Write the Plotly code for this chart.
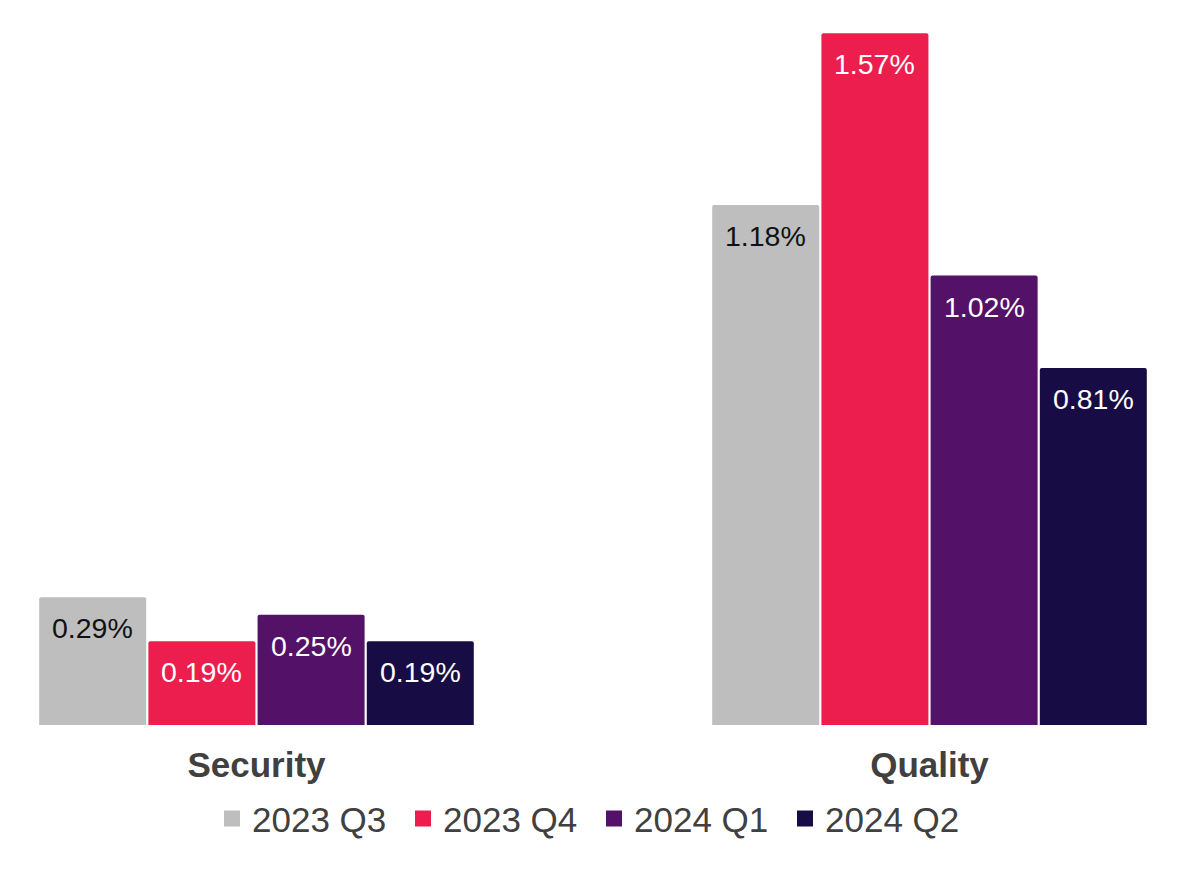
import plotly.graph_objects as go

categories = ["Security", "Quality"]
series_names = ["2023 Q3", "2023 Q4", "2024 Q1", "2024 Q2"]
values = {
    "2023 Q3": [0.29, 1.18],
    "2023 Q4": [0.19, 1.57],
    "2024 Q1": [0.25, 1.02],
    "2024 Q2": [0.19, 0.81],
}
colors = ["#BEBEBE", "#EC1E4E", "#541168", "#170D44"]
label_colors = ["#111111", "#FFFFFF", "#FFFFFF", "#FFFFFF"]

BARGAP = 0.351
GROUPGAP = 0.02
n = len(series_names)
slot = (1 - BARGAP) / n
FONT = "Liberation Sans, Arial, sans-serif"

fig = go.Figure()
xpos = list(range(len(categories)))
for j, name in enumerate(series_names):
    fig.add_trace(go.Bar(
        x=xpos, y=values[name], name=name, legendgroup=name, showlegend=False,
        marker=dict(color=colors[j], cornerradius=2, line=dict(width=0)),
        hoverinfo="skip",
    ))
    # legend entry with a larger square swatch
    fig.add_trace(go.Scatter(
        x=[None], y=[None], mode="markers", name=name, legendgroup=name,
        marker=dict(symbol="square", size=18, color=colors[j]),
        showlegend=True, hoverinfo="skip",
    ))
    for i, v in enumerate(values[name]):
        fig.add_annotation(
            x=i - (1 - BARGAP) / 2 + slot * (j + 0.5), y=v,
            text=f"{v:.2f}%", showarrow=False, yanchor="top", yshift=-13,
            font=dict(family=FONT, size=28.5, color=label_colors[j]),
        )

fig.update_layout(
    width=1200, height=870,
    margin=dict(l=0, r=0, t=20, b=145),
    paper_bgcolor="white", plot_bgcolor="white",
    barmode="group", bargap=BARGAP, bargroupgap=GROUPGAP,
    font=dict(family=FONT),
    xaxis=dict(
        tickmode="array", tickvals=xpos,
        ticktext=[f"<b>{c}</b>" for c in categories],
        tickfont=dict(size=35, color="#404040"),
        range=[-0.3811, 1.4019], showgrid=False, zeroline=False,
        showline=False, ticks="", ticklabelstandoff=16,
    ),
    yaxis=dict(range=[0, 1.6], visible=False),
    legend=dict(
        orientation="h", x=0.495, xanchor="center", y=-0.133, yanchor="middle",
        font=dict(size=35, color="#404040"), itemwidth=30, tracegroupgap=0,
        entrywidth=146, entrywidthmode="pixels",
    ),
    showlegend=True,
)

fig.write_html("out.html")
